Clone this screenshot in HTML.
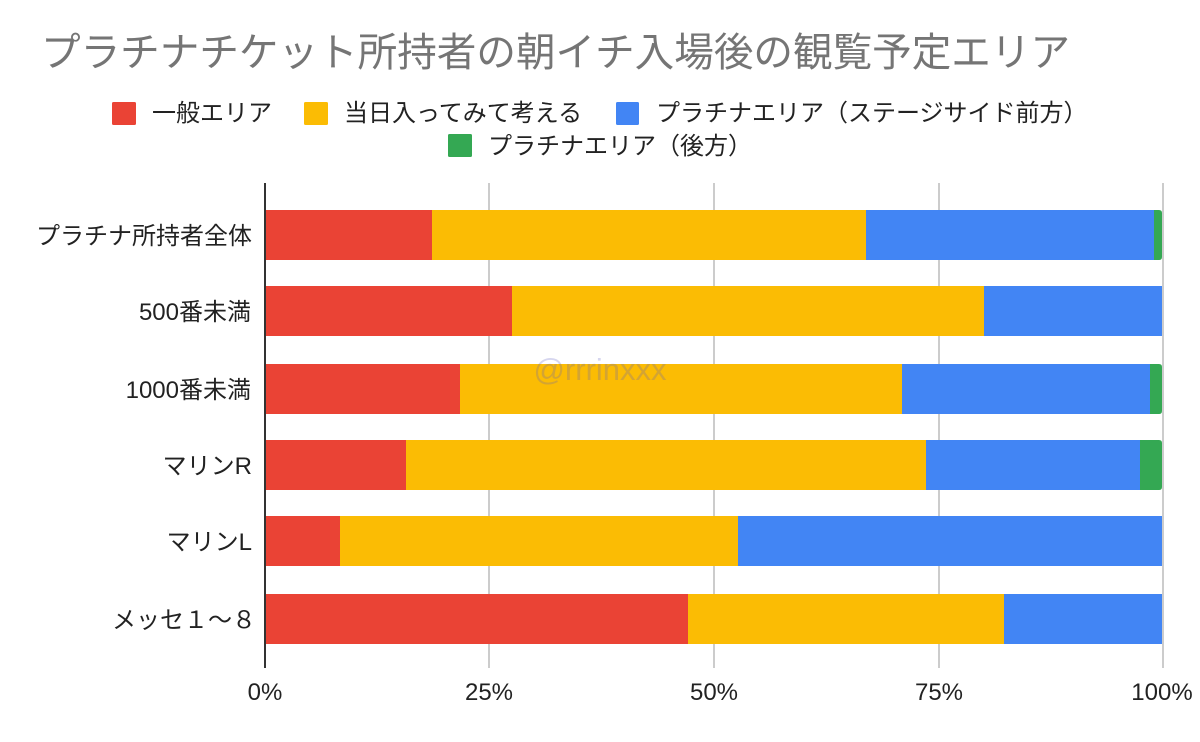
<!DOCTYPE html>
<html>
<head>
<meta charset="utf-8">
<style>
  html, body { margin: 0; padding: 0; background: #ffffff; }
  svg { display: block; }
  text { font-family: "Liberation Sans", "Noto Sans CJK JP", sans-serif; }
</style>
</head>
<body>
<svg width="1200" height="742" viewBox="0 0 1200 742" xmlns="http://www.w3.org/2000/svg">
  <rect x="0" y="0" width="1200" height="742" fill="#ffffff"/>

  <!-- Title -->
  <text x="41" y="66" font-size="39.6" fill="#757575">プラチナチケット所持者の朝イチ入場後の観覧予定エリア</text>

  <!-- Legend row 1 -->
  <rect x="112" y="102" width="24" height="23" rx="1.5" fill="#EA4335"/>
  <text x="152" y="121" font-size="24" fill="#222222">一般エリア</text>
  <rect x="304" y="102" width="24" height="23" rx="1.5" fill="#FBBC04"/>
  <text x="344" y="121" font-size="24" fill="#222222">当日入ってみて考える</text>
  <rect x="616" y="102" width="23" height="23" rx="1.5" fill="#4285F4"/>
  <text x="656" y="121" font-size="24" fill="#222222">プラチナエリア（ステージサイド前方）</text>
  <!-- Legend row 2 -->
  <rect x="448" y="134" width="24" height="23" rx="1.5" fill="#34A853"/>
  <text x="488" y="154" font-size="24" fill="#222222">プラチナエリア（後方）</text>

  <!-- Gridlines -->
  <g stroke="#cccccc" stroke-width="2">
    <line x1="489" y1="183" x2="489" y2="668"/>
    <line x1="714" y1="183" x2="714" y2="668"/>
    <line x1="939" y1="183" x2="939" y2="668"/>
    <line x1="1163" y1="183" x2="1163" y2="668"/>
  </g>

  <!-- Bars -->
  <!-- Row 1 -->
  <rect x="266" y="210" width="166" height="50" fill="#EA4335"/>
  <rect x="432" y="210" width="434" height="50" fill="#FBBC04"/>
  <rect x="866" y="210" width="288" height="50" fill="#4285F4"/>
  <path d="M1154 210 H1159 Q1162 210 1162 213 V257 Q1162 260 1159 260 H1154 Z" fill="#34A853"/>
  <!-- Row 2 -->
  <rect x="266" y="286" width="246" height="50" fill="#EA4335"/>
  <rect x="512" y="286" width="472" height="50" fill="#FBBC04"/>
  <rect x="984" y="286" width="178" height="50" fill="#4285F4"/>
  <!-- Row 3 -->
  <rect x="266" y="364" width="194" height="50" fill="#EA4335"/>
  <rect x="460" y="364" width="442" height="50" fill="#FBBC04"/>
  <rect x="902" y="364" width="248" height="50" fill="#4285F4"/>
  <path d="M1150 364 H1159 Q1162 364 1162 367 V411 Q1162 414 1159 414 H1150 Z" fill="#34A853"/>
  <!-- Row 4 -->
  <rect x="266" y="440" width="140" height="50" fill="#EA4335"/>
  <rect x="406" y="440" width="520" height="50" fill="#FBBC04"/>
  <rect x="926" y="440" width="214" height="50" fill="#4285F4"/>
  <path d="M1140 440 H1159 Q1162 440 1162 443 V487 Q1162 490 1159 490 H1140 Z" fill="#34A853"/>
  <!-- Row 5 -->
  <rect x="266" y="516" width="74" height="50" fill="#EA4335"/>
  <rect x="340" y="516" width="398" height="50" fill="#FBBC04"/>
  <rect x="738" y="516" width="424" height="50" fill="#4285F4"/>
  <!-- Row 6 -->
  <rect x="266" y="594" width="422" height="50" fill="#EA4335"/>
  <rect x="688" y="594" width="316" height="50" fill="#FBBC04"/>
  <rect x="1004" y="594" width="158" height="50" fill="#4285F4"/>

  <!-- Axis line -->
  <line x1="265" y1="183" x2="265" y2="668" stroke="#333333" stroke-width="2"/>

  <!-- Category labels -->
  <g font-size="24" fill="#222222" text-anchor="end">
    <text x="252" y="244">プラチナ所持者全体</text>
    <text x="251" y="320">500番未満</text>
    <text x="251" y="398">1000番未満</text>
    <text x="252" y="474">マリンR</text>
    <text x="252" y="550">マリンL</text>
    <text x="256" y="628">メッセ１～８</text>
  </g>

  <!-- X tick labels -->
  <g font-size="24" fill="#222222" text-anchor="middle">
    <text x="265" y="700">0%</text>
    <text x="489" y="700">25%</text>
    <text x="714" y="700">50%</text>
    <text x="939" y="700">75%</text>
    <text x="1162" y="700">100%</text>
  </g>

  <!-- Watermark -->
  <text x="600" y="380" font-size="31" text-anchor="middle" fill="rgba(90,90,190,0.25)">@rrrinxxx</text>
</svg>
</body>
</html>
